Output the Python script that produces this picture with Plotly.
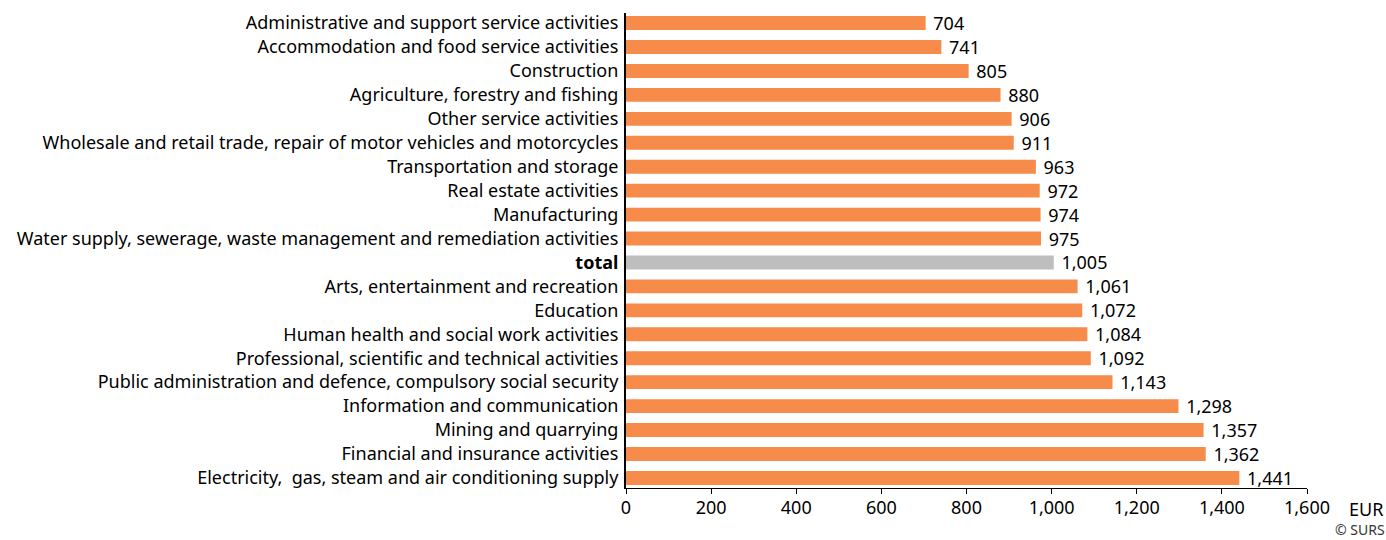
import plotly.graph_objects as go

categories = [
    "Administrative and support service activities",
    "Accommodation and food service activities",
    "Construction",
    "Agriculture, forestry and fishing",
    "Other service activities",
    "Wholesale and retail trade, repair of motor vehicles and motorcycles",
    "Transportation and storage",
    "Real estate activities",
    "Manufacturing",
    "Water supply, sewerage, waste management and remediation activities",
    "<b>total</b>",
    "Arts, entertainment and recreation",
    "Education",
    "Human health and social work activities",
    "Professional, scientific and technical activities",
    "Public administration and defence, compulsory social security",
    "Information and communication",
    "Mining and quarrying",
    "Financial and insurance activities",
    "Electricity,  gas, steam and air conditioning supply",
]
values = [704, 741, 805, 880, 906, 911, 963, 972, 974, 975, 1005,
          1061, 1072, 1084, 1092, 1143, 1298, 1357, 1362, 1441]

ORANGE = "#F68B4A"
GRAY = "#BEBEBE"
colors = [GRAY if "total" in c else ORANGE for c in categories]

FONT = "Noto Sans"
FS = 18

fig = go.Figure(go.Bar(
    x=values, y=categories, orientation="h",
    marker=dict(color=colors, line=dict(width=0)),
    texttemplate=" %{x:,}", textposition="outside", cliponaxis=False,
    constraintext="none",
    textfont=dict(family=FONT, size=FS, color="#000000"),
    hoverinfo="skip",
))

fig.update_layout(
    width=1386, height=540,
    margin=dict(l=626, r=79, t=13, b=52),
    plot_bgcolor="white", paper_bgcolor="white",
    bargap=0.42,
    showlegend=False,
    font=dict(family=FONT, size=FS, color="#000000"),
    xaxis=dict(
        range=[0, 1600], tickvals=list(range(0, 1601, 200)),
        tickformat=",d", showgrid=False, zeroline=False,
        showline=True, linecolor="#000000", linewidth=1,
        ticks="outside", ticklen=5, tickcolor="#000000",
        ticklabelstandoff=-2,
        tickfont=dict(family=FONT, size=FS),
    ),
    yaxis=dict(
        range=[19.42, -0.42], showgrid=False, zeroline=False,
        showline=True, linecolor="#000000", linewidth=2,
        ticks="", ticklabelstandoff=2, automargin=False,
        tickfont=dict(family=FONT, size=FS),
    ),
    annotations=[
        dict(text="EUR", x=1, xref="paper", y=0, yref="paper",
             xanchor="left", yanchor="middle", xshift=40, yshift=-21,
             showarrow=False, font=dict(family=FONT, size=FS)),
        dict(text="© SURS", x=1, xref="paper", y=0, yref="paper",
             xanchor="right", yanchor="bottom", xshift=80, yshift=-53,
             showarrow=False, font=dict(family=FONT, size=14, color="#333333")),
    ],
)

fig.write_html("out.html", post_script="document.body.style.margin='0';",
               config={"displayModeBar": False})
